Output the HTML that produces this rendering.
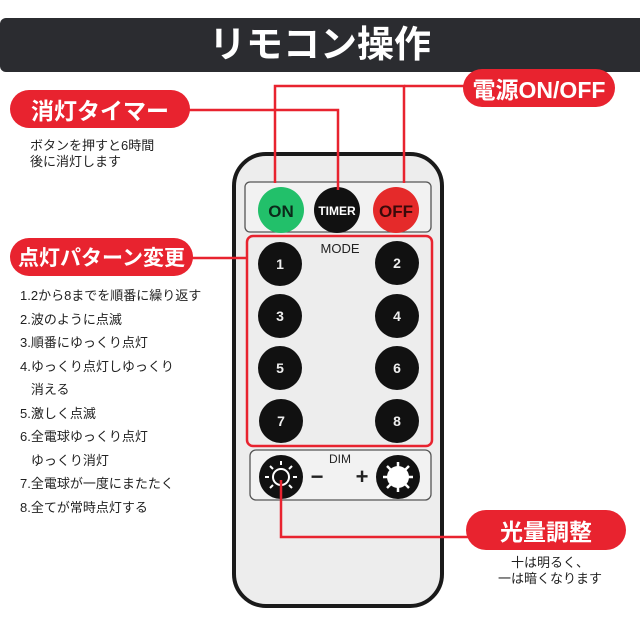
<!DOCTYPE html>
<html><head><meta charset="utf-8"><style>
body{margin:0;width:640px;height:640px;background:#fff;position:relative;overflow:hidden;font-family:"Liberation Sans","Noto Sans CJK JP",sans-serif}
.a{position:absolute}
.lab{position:absolute;background:#e8232f;color:#fff;font-weight:bold;border-radius:20px;display:flex;align-items:center;justify-content:center;white-space:nowrap}
.t{position:absolute;font-size:13px;color:#222;white-space:nowrap;line-height:16px}
</style></head><body>
<div class="a" style="left:0;top:18px;width:640px;height:54px;background:#2b2c30;border-radius:6px 0 0 6px"></div>
<div class="a" style="left:0;top:18px;width:640px;height:54px;color:#fff;font-size:37px;font-weight:bold;text-align:center;line-height:54px">リモコン操作</div>

<svg class="a" style="left:0;top:0" width="640" height="640">
<rect x="234" y="154" width="208" height="452" rx="32" fill="#ededed" stroke="#1a1a1a" stroke-width="4"/>
<rect x="245" y="182" width="186" height="50" rx="5" fill="#f2f2f2" stroke="#555" stroke-width="1.3"/>
<rect x="250" y="450" width="181" height="50" rx="6" fill="#f2f2f2" stroke="#555" stroke-width="1.3"/>
<circle cx="281" cy="210" r="23" fill="#22c06a"/>
<circle cx="337" cy="210" r="23" fill="#111"/>
<circle cx="396" cy="210" r="23" fill="#e52a2a"/>
<text x="281" y="217" font-size="17" fill="#0b2a1a" text-anchor="middle" font-family="Liberation Sans" font-weight="bold">ON</text>
<text x="337" y="215" font-size="12" fill="#fff" text-anchor="middle" font-family="Liberation Sans" font-weight="bold">TIMER</text>
<text x="396" y="217" font-size="17" fill="#3a0a0a" text-anchor="middle" font-family="Liberation Sans" font-weight="bold">OFF</text>
<rect x="247" y="236" width="185" height="210" rx="6" fill="none" stroke="#e8232f" stroke-width="2.5"/>
<text x="340" y="253" font-size="13" fill="#222" text-anchor="middle" font-family="Liberation Sans">MODE</text>
<g fill="#111"><circle cx="280" cy="264" r="22"/><circle cx="397" cy="263" r="22"/>
<circle cx="280" cy="316" r="22"/><circle cx="397" cy="316" r="22"/>
<circle cx="280" cy="368" r="22"/><circle cx="397" cy="368" r="22"/>
<circle cx="281" cy="421" r="22"/><circle cx="397" cy="421" r="22"/></g>
<g fill="#eee" font-size="14" font-weight="bold" font-family="Liberation Sans" text-anchor="middle">
<text x="280" y="269">1</text><text x="397" y="268">2</text>
<text x="280" y="321">3</text><text x="397" y="321">4</text>
<text x="280" y="373">5</text><text x="397" y="373">6</text>
<text x="281" y="426">7</text><text x="397" y="426">8</text></g>
<text x="340" y="463" font-size="12" fill="#222" text-anchor="middle" font-family="Liberation Sans">DIM</text>
<text x="317" y="484" font-size="22" fill="#222" text-anchor="middle" font-family="Liberation Sans" font-weight="bold">−</text>
<text x="362" y="484" font-size="22" fill="#222" text-anchor="middle" font-family="Liberation Sans" font-weight="bold">+</text>
<circle cx="281" cy="477" r="22" fill="#111"/><circle cx="398" cy="477" r="22" fill="#111"/>
<circle cx="281" cy="477" r="8" fill="none" stroke="#fff" stroke-width="2"/>
<g stroke="#fff" stroke-width="2">
<line x1="281" y1="465" x2="281" y2="461"/><line x1="281" y1="489" x2="281" y2="493"/>
<line x1="269" y1="477" x2="265" y2="477"/><line x1="293" y1="477" x2="297" y2="477"/>
<line x1="273" y1="469" x2="270" y2="466"/><line x1="289" y1="485" x2="292" y2="488"/>
<line x1="289" y1="469" x2="292" y2="466"/><line x1="273" y1="485" x2="270" y2="488"/>
</g>
<circle cx="398" cy="477" r="11" fill="#fff"/>
<g stroke="#fff" stroke-width="2.5">
<line x1="398" y1="462" x2="398" y2="492"/><line x1="383" y1="477" x2="413" y2="477"/>
<line x1="387" y1="466" x2="409" y2="488"/><line x1="409" y1="466" x2="387" y2="488"/>
</g>
<g fill="none" stroke="#e8232f" stroke-width="2.5">
<polyline points="275,183 275,86 404,86 404,183"/>
<line x1="404" y1="86" x2="470" y2="86"/>
<polyline points="188,110 338,110 338,190"/>
<line x1="190" y1="258" x2="247" y2="258"/>
<polyline points="281,480 281,537 470,537"/>
</g>
</svg>

<div class="lab" style="left:463px;top:69px;width:152px;height:38px;font-size:23px">電源ON/OFF</div>
<div class="lab" style="left:10px;top:90px;width:180px;height:38px;font-size:23px">消灯タイマー</div>
<div class="t" style="left:30px;top:138px">ボタンを押すと6時間<br>後に消灯します</div>
<div class="lab" style="left:10px;top:238px;width:183px;height:38px;font-size:21px">点灯パターン変更</div>
<div class="t" style="left:20px;top:284px;line-height:23.5px">1.2から8までを順番に繰り返す<br>2.波のように点滅<br>3.順番にゆっくり点灯<br>4.ゆっくり点灯しゆっくり<br>&nbsp;&nbsp;&nbsp;消える<br>5.激しく点滅<br>6.全電球ゆっくり点灯<br>&nbsp;&nbsp;&nbsp;ゆっくり消灯<br>7.全電球が一度にまたたく<br>8.全てが常時点灯する</div>
<div class="lab" style="left:466px;top:510px;width:160px;height:40px;font-size:23px">光量調整</div>
<div class="t" style="left:470px;top:555px;width:160px;text-align:center">十は明るく、<br>一は暗くなります</div>
</body></html>
